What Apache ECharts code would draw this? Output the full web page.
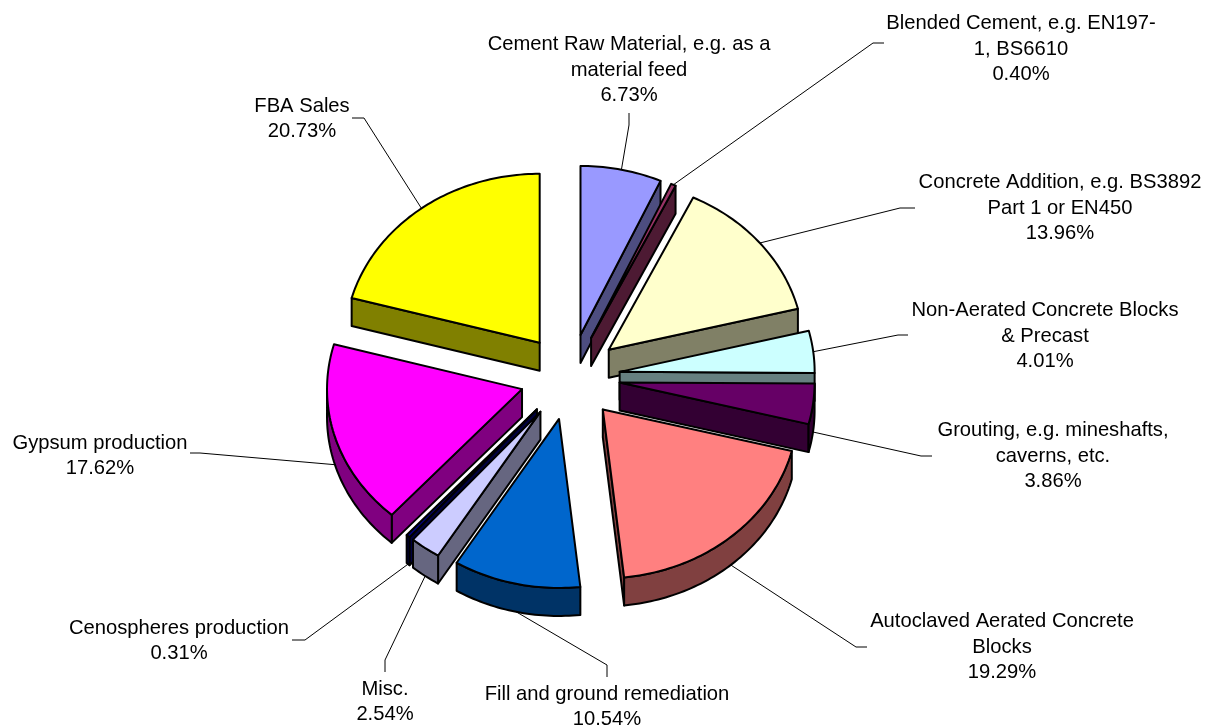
<!DOCTYPE html>
<html>
<head>
<meta charset="utf-8">
<title>FBA uses</title>
<script src="https://cdn.jsdelivr.net/npm/echarts@6/dist/echarts.min.js"></script>
<style>
  html, body { margin: 0; padding: 0; background: #fff; }
  #chart { width: 1212px; height: 727px; }
</style>
</head>
<body>
<div id="chart"></div>
<script>
// slices, clockwise from 12 o'clock
const names = [
  'Cement Raw Material, e.g. as a\nmaterial feed',
  'Blended Cement, e.g. EN197-\n1, BS6610',
  'Concrete Addition, e.g. BS3892\nPart 1 or EN450',
  'Non-Aerated Concrete Blocks\n& Precast',
  'Grouting, e.g. mineshafts,\ncaverns, etc.',
  'Autoclaved Aerated Concrete\nBlocks',
  'Fill and ground remediation',
  'Misc.',
  'Cenospheres production',
  'Gypsum production',
  'FBA Sales'
];
const values = [6.73, 0.40, 13.96, 4.01, 3.86, 19.29, 10.54, 2.54, 0.31, 17.62, 20.73];
const colors = ['#9999FF', '#993366', '#FFFFCC', '#CCFFFF', '#660066', '#FF8080', '#0066CC', '#CCCCFF', '#000080', '#FF00FF', '#FFFF00'];

// layout of the labels, same order as above: text centre and the two leader points next to it
const labelPos = [[629, 70], [1021, 49], [1060, 208], [1045, 336], [1053, 456], [1002, 647], [607, 707], [385, 702], [179, 641], [100, 456], [302, 119]];
const leaderElbow = [[629, 125], [873, 43], [900, 208], [898, 335], [921, 456], [856, 647], [607, 665], [385, 660], [305, 640], [200, 453], [364, 118]];
const leaderEnd = [[629, 113], [884, 43], [915, 208], [908, 335], [932, 456], [867, 647], [607, 677], [385, 672], [292, 640], [190, 453], [352, 118]];

// painter's order, the front slices come last
const drawOrder = [10, 0, 1, 2, 3, 4, 9, 8, 7, 6, 5];

// tilted pie
const cx = 570, cy = 377, rx = 195, ry = 169, depth = 28;
const explodeX = 50, explodeY = 43;

const total = values.reduce((a, b) => a + b, 0);

function darker(hex) {
  const n = parseInt(hex.slice(1), 16);
  const half = c => Math.round(c / 2);
  return 'rgb(' + half(n >> 16) + ',' + half((n >> 8) & 255) + ',' + half(n & 255) + ')';
}

function sliceAngles(i) {
  let before = 0;
  for (let k = 0; k < i; k++) before += values[k];
  const a0 = before / total * Math.PI * 2;
  const a1 = (before + values[i]) / total * Math.PI * 2;
  return [a0, a1];
}

function renderSlice(params) {
  const i = params.dataIndex;
  const [a0, a1] = sliceAngles(i);
  const mid = (a0 + a1) / 2;
  const ax = cx + explodeX * Math.sin(mid);
  const ay = cy - explodeY * Math.cos(mid);
  const rim = a => [ax + rx * Math.sin(a), ay - ry * Math.cos(a)];
  const down = p => [p[0], p[1] + depth];

  const arc = [];
  const steps = Math.max(2, Math.ceil((a1 - a0) / 0.02));
  for (let s = 0; s <= steps; s++) arc.push(a0 + (a1 - a0) * s / steps);

  const base = drawOrder.indexOf(i) * 10 + 1;
  const lineStyle = { stroke: '#000', lineWidth: 2, lineJoin: 'round' };
  const children = [];
  const wall = pts => children.push({
    type: 'polygon',
    z2: base + children.length,
    shape: { points: pts },
    style: Object.assign({ fill: darker(colors[i]) }, lineStyle)
  });

  // flat cut faces, only the ones turned to the viewer
  const apex = [ax, ay];
  const m = rim(mid);
  [a0, a1].forEach(a => {
    const p = rim(a);
    const ex = p[0] - ax, ey = p[1] - ay;
    const inside = ex * (m[1] - ay) - ey * (m[0] - ax);
    const below = ex * depth;
    if (inside * below < 0) wall([apex, p, down(p), down(apex)]);
  });

  // curved outer face, only the front half of the rim
  const front = arc.filter(a => Math.cos(a) < 0);
  if (front.length > 1) {
    const topEdge = front.map(rim);
    wall(topEdge.concat(topEdge.map(down).reverse()));
  }

  // top face
  children.push({
    type: 'polygon',
    z2: base + children.length,
    shape: { points: [apex].concat(arc.map(rim)) },
    style: Object.assign({ fill: colors[i] }, lineStyle)
  });

  // leader from the middle of the rim to the label
  const start = Math.cos(mid) < 0 ? down(m) : m;
  children.push({
    type: 'polyline',
    z2: 0,
    shape: { points: [start, leaderElbow[i], leaderEnd[i]] },
    style: { stroke: '#000', lineWidth: 1, fill: null }
  });

  children.push({
    type: 'text',
    z2: 210,
    x: labelPos[i][0],
    y: labelPos[i][1],
    style: {
      text: names[i] + '\n' + values[i].toFixed(2) + '%',
      fill: '#000',
      font: '20.2px "Liberation Sans", Arial, sans-serif',
      lineHeight: 25.7,
      align: 'center',
      verticalAlign: 'middle'
    }
  });

  return { type: 'group', children: children };
}

const myChart = echarts.init(document.getElementById('chart'));
myChart.setOption({
  animation: false,
  backgroundColor: '#fff',
  series: [{
    type: 'custom',
    coordinateSystem: 'none',
    silent: true,
    renderItem: renderSlice,
    data: values.map(v => [v])
  }]
});
</script>
</body>
</html>
